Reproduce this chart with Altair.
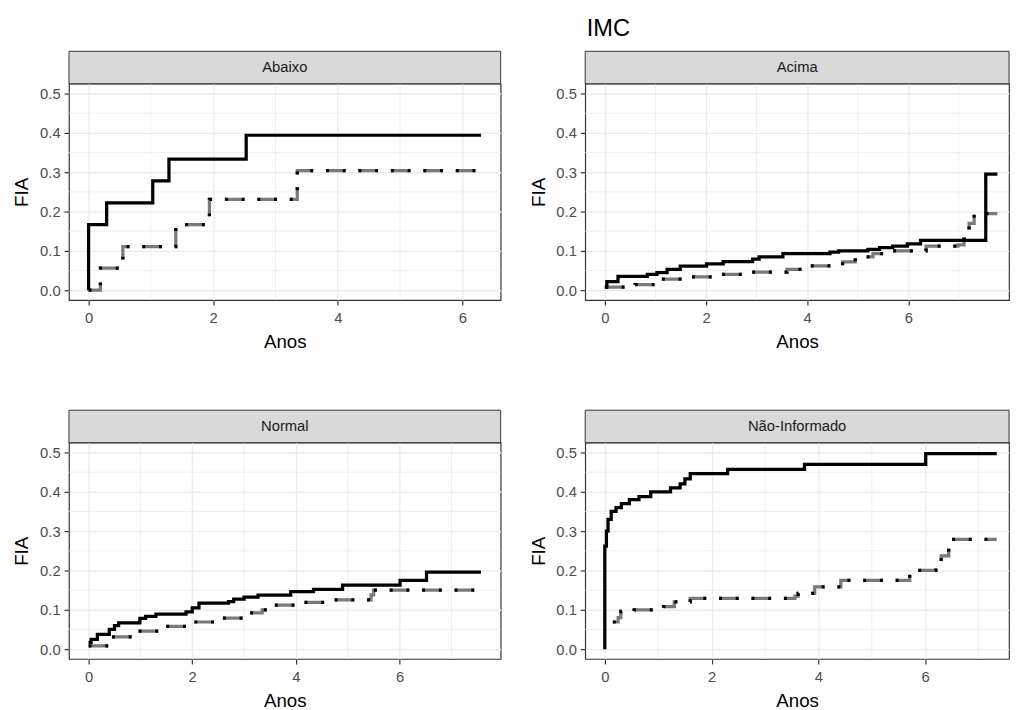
import altair as alt
import pandas as pd

FONT = "Liberation Sans"

# ---- data ----
panel_names = ["Abaixo", "Acima", "Normal", "Não-Informado"]

abaixo_solid_t = [0, 0, 0.29, 1.03, 1.29, 2.53, 6.30]
abaixo_solid_y = [0, 0.167, 0.222, 0.278, 0.333, 0.394, 0.394]
abaixo_dash_t = [0, 0.19, 0.55, 1.40, 1.94, 3.35, 6.30]
abaixo_dash_y = [0, 0.056, 0.111, 0.167, 0.231, 0.304, 0.304]

acima_solid_t = [0, 0.04, 0.26, 0.84, 1.03, 1.23, 1.49, 2.01, 2.34, 2.92, 3.05, 3.52,
                 4.45, 4.62, 5.20, 5.43, 5.69, 5.98, 6.24, 7.53, 7.76]
acima_solid_y = [0.008, 0.022, 0.035, 0.040, 0.045, 0.053, 0.061, 0.067, 0.073, 0.079, 0.085, 0.093,
                 0.097, 0.100, 0.104, 0.108, 0.112, 0.118, 0.127, 0.295, 0.295]
acima_dash_t = [0, 0.60, 1.00, 1.70, 2.30, 2.90, 3.60, 3.90, 4.70, 4.95, 5.30, 5.65, 6.35,
                6.98, 7.10, 7.14, 7.20, 7.30, 7.76]
acima_dash_y = [0.008, 0.014, 0.028, 0.034, 0.040, 0.046, 0.053, 0.062, 0.072, 0.085, 0.093, 0.100, 0.112,
                0.115, 0.130, 0.146, 0.170, 0.195, 0.195]

normal_solid_t = [0, 0.05, 0.17, 0.40, 0.50, 0.58, 0.99, 1.10, 1.30, 1.88, 2.00, 2.13, 2.70, 2.80,
                  3.00, 3.27, 3.90, 4.34, 4.90, 6.01, 6.52, 7.57]
normal_solid_y = [0.017, 0.025, 0.0375, 0.050, 0.060, 0.067, 0.078, 0.083, 0.089, 0.095, 0.105, 0.117,
                  0.121, 0.127, 0.132, 0.1375, 0.146, 0.152, 0.1625, 0.175, 0.196, 0.196]
normal_dash_t = [0, 0.38, 0.90, 1.40, 1.95, 2.50, 3.00, 3.35, 3.50, 4.00, 4.70, 5.45, 5.50, 7.57]
normal_dash_y = [0.008, 0.031, 0.046, 0.058, 0.069, 0.079, 0.092, 0.100, 0.112, 0.119, 0.125, 0.138,
                 0.150, 0.150]

nao_solid_t = [0, 0, 0.03, 0.06, 0.12, 0.21, 0.31, 0.46, 0.64, 0.86, 1.23, 1.41, 1.50, 1.60,
               2.30, 3.74, 6.01, 7.34]
nao_solid_y = [0, 0.262, 0.300, 0.330, 0.350, 0.360, 0.370, 0.380, 0.388, 0.400, 0.410, 0.420,
               0.433, 0.446, 0.457, 0.470, 0.497, 0.497]
nao_dash_t = [0.15, 0.25, 0.30, 0.55, 1.10, 1.30, 1.60, 3.56, 3.62, 3.93, 4.42, 5.71, 6.20, 6.30,
              6.44, 7.34]
nao_dash_y = [0.069, 0.080, 0.096, 0.100, 0.108, 0.120, 0.129, 0.135, 0.142, 0.158, 0.175, 0.200,
              0.220, 0.237, 0.279, 0.279]

y_ticks = [0.0, 0.1, 0.2, 0.3, 0.4, 0.5]
y_minor = [0.05, 0.15, 0.25, 0.35, 0.45]
x_ticks = [0, 2, 4, 6]
x_minor = [1, 3, 5, 7]

x_domains = {
    "Abaixo": [-0.315, 6.615],
    "Acima": [-0.388, 7.99],
    "Normal": [-0.378, 7.95],
    "Não-Informado": [-0.367, 7.57],
}
y_domain = [-0.025, 0.525]

series = {
    "Abaixo": (abaixo_solid_t, abaixo_solid_y, abaixo_dash_t, abaixo_dash_y),
    "Acima": (acima_solid_t, acima_solid_y, acima_dash_t, acima_dash_y),
    "Normal": (normal_solid_t, normal_solid_y, normal_dash_t, normal_dash_y),
    "Não-Informado": (nao_solid_t, nao_solid_y, nao_dash_t, nao_dash_y),
}

GRID = "#ebebeb"
H = 220
STRIP = 33


def panel(name, width):
    st, sy, dt, dy = series[name]
    dom = x_domains[name]
    xs = alt.Scale(domain=dom, nice=False, zero=False)
    ys = alt.Scale(domain=y_domain, nice=False, zero=False)
    xaxis = alt.Axis(values=x_ticks, format="d", title="Anos", grid=True)
    yaxis = alt.Axis(values=y_ticks, format=".1f", title="FIA", grid=True)

    df_s = pd.DataFrame({"t": st, "y": sy, "i": list(range(len(st)))})
    df_d = pd.DataFrame({"t": dt, "y": dy, "i": list(range(len(dt)))})
    mx = [v for v in x_minor if dom[0] < v < dom[1]]

    minor_x = alt.Chart(pd.DataFrame({"v": mx})).mark_rule(
        color=GRID, strokeWidth=0.8).encode(x=alt.X("v:Q", scale=xs, axis=xaxis, title="Anos"))
    minor_y = alt.Chart(pd.DataFrame({"v": y_minor})).mark_rule(
        color=GRID, strokeWidth=0.8).encode(y=alt.Y("v:Q", scale=ys, axis=yaxis, title="FIA"))

    def base(df):
        return alt.Chart(df).encode(
            x=alt.X("t:Q", scale=xs, axis=xaxis, title="Anos"),
            y=alt.Y("y:Q", scale=ys, axis=yaxis, title="FIA"),
            order=alt.Order("i:Q"),
        )

    solid = base(df_s).mark_line(interpolate="step-after", color="black", strokeWidth=3.3)
    dash_gray = base(df_d).mark_line(interpolate="step-after", color="#7a7a7a",
                                     strokeWidth=3.3, strokeDash=[20, 13], strokeCap="butt")
    dash_black = base(df_d).mark_line(interpolate="step-after", color="black",
                                      strokeWidth=3.3, strokeDash=[3, 14, 3, 13], strokeCap="butt")

    lab = pd.DataFrame({"lab": [name]})
    strip_rect = alt.Chart(lab).mark_rect(fill="#d9d9d9", stroke="#333333", strokeWidth=1).encode(
        x=alt.value(0), x2=alt.value(width), y=alt.value(-STRIP), y2=alt.value(0))
    strip_text = alt.Chart(lab).mark_text(font=FONT, fontSize=15, color="#1a1a1a",
                                          baseline="middle", align="center").encode(
        text="lab:N", x=alt.value(width / 2), y=alt.value(-STRIP / 2))

    return alt.layer(minor_x, minor_y, dash_gray, dash_black, solid, strip_rect, strip_text).properties(
        width=width, height=H)


W_LEFT = 439
W_RIGHT = 431

row1 = alt.hconcat(panel("Abaixo", W_LEFT), panel("Acima", W_RIGHT), spacing=26)
row2 = alt.hconcat(panel("Normal", W_LEFT), panel("Não-Informado", W_RIGHT), spacing=26)

chart = alt.vconcat(
    row1, row2, spacing=57,
    title=alt.Title("IMC", anchor="start", dx=584, fontSize=24, font=FONT,
                    fontWeight="normal", color="black", offset=9),
).properties(
    padding={"left": 4, "top": 3, "right": 0, "bottom": 0}
).configure_view(
    stroke="#333333", strokeWidth=1.2
).configure_axis(
    domain=False,
    ticks=True, tickColor="#333333", tickSize=5, tickWidth=1.2,
    labelFont=FONT, labelFontSize=15, labelColor="#4d4d4d", labelPadding=4,
    titleFont=FONT, titleFontSize=19, titleColor="black", titleFontWeight="normal",
    titlePadding=5,
    gridColor=GRID, gridWidth=1.4,
).configure_axisX(
    labelPadding=6, titlePadding=7
).configure_axisY(
    titlePadding=8
)

chart.save("out.html", embed_options={"renderer": "svg", "actions": False})
